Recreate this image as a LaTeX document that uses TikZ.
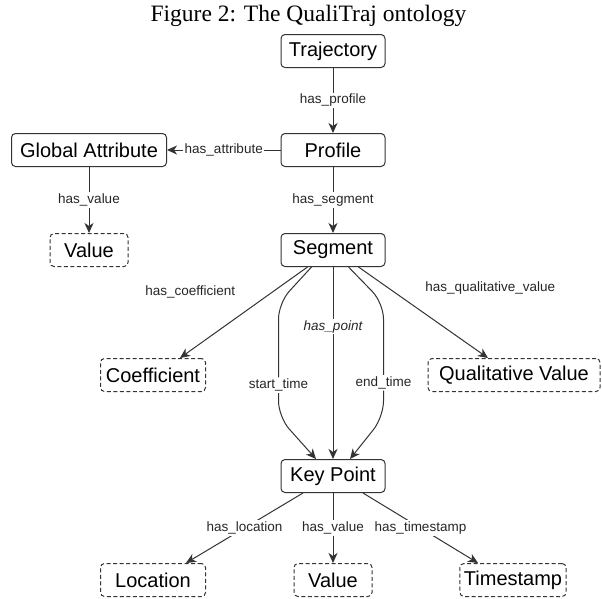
\documentclass[tikz,border=0pt]{standalone}
\usepackage{fontspec}
\setmainfont{Liberation Sans}
\newfontfamily\titlefont{Liberation Serif}
\usetikzlibrary{arrows.meta,positioning}
\definecolor{linegray}{HTML}{333333}

\begin{document}
\begin{tikzpicture}[x=1pt,y=-1pt,
		concept/.style={draw=linegray, line width=1pt, rounded corners=4pt, minimum height=33pt, minimum width=104pt, inner xsep=4pt, font=\fontsize{20}{24}\selectfont},
		literal/.style={concept, dash pattern=on 4pt off 2.5pt},
		rel/.style={draw=linegray, line width=1pt, -{Stealth[length=10pt,width=9pt,inset=3pt]}},
		lbl/.style={font=\fontsize{13.5}{16}\selectfont, fill=white, inner sep=1.5pt, text=black!85}]
		\useasboundingbox (0,0) rectangle (602,598);
		\node[font=\titlefont\fontsize{23.5}{28}\selectfont] (title) at (308.5,16) {Figure 2: The QualiTraj ontology};
		\node[concept] (traj) at (333,51) {Trajectory};
		\node[concept] (prof) at (333,150) {Profile};
		\node[concept, minimum width=155pt] (gattr) at (89,150) {Global Attribute};
		\node[literal, minimum width=78pt] (gval) at (89,250) {Value};
		\node[concept] (seg) at (333,250) {Segment};
		\node[literal, minimum width=105pt] (coef) at (153,375) {Coefficient};
		\node[literal, minimum width=172pt] (qval) at (514,375) {Qualitative Value};
		\node[concept] (kp) at (333,476) {Key Point};
		\node[literal, minimum width=105pt] (loc) at (153,580) {Location};
		\node[literal, minimum width=78pt] (kval) at (333,580) {Value};
		\node[literal] (tstamp) at (513,580) {Timestamp};
		\draw[rel] (traj) -- node[lbl] {has\_profile} (prof);
		\draw[rel] (prof) -- node[lbl] {has\_attribute} (gattr);
		\draw[rel] (gattr) -- node[lbl] {has\_value} (gval);
		\draw[rel] (prof) -- node[lbl] {has\_segment} (seg);
		\draw[rel] ([xshift=27pt]seg.south west) -- node[lbl, pos=0.27, left=36pt] {has\_coefficient} ([xshift=27pt]coef.north);
		\draw[rel] ([xshift=-27pt]seg.south east) -- node[lbl, pos=0.23, right=35pt] {has\_qualitative\_value} ([xshift=-26pt]qval.north);
		\draw[rel] (seg) -- node[lbl, pos=0.31, font=\fontsize{13.5}{16}\selectfont\itshape] {has\_point} (kp);
		\draw[rel, rounded corners=16pt] ([xshift=31pt]seg.south west) -- ++(-33,36) -- node[lbl, pos=0.72] {start\_time} ++(0,114) -- ([xshift=-17pt]kp.north);
		\draw[rel, rounded corners=16pt] ([xshift=-37pt]seg.south east) -- ++(35,36) -- node[lbl, pos=0.70] {end\_time} ++(0,114) -- ([xshift=17pt]kp.north);
		\draw[rel] ([xshift=-30pt]kp.south) -- node[lbl] {has\_location} ([xshift=33pt]loc.north);
		\draw[rel] (kp) -- node[lbl] {has\_value} (kval);
		\draw[rel] ([xshift=30pt]kp.south) -- node[lbl] {has\_timestamp} ([xshift=-35pt]tstamp.north);
	\end{tikzpicture}
\end{document}
